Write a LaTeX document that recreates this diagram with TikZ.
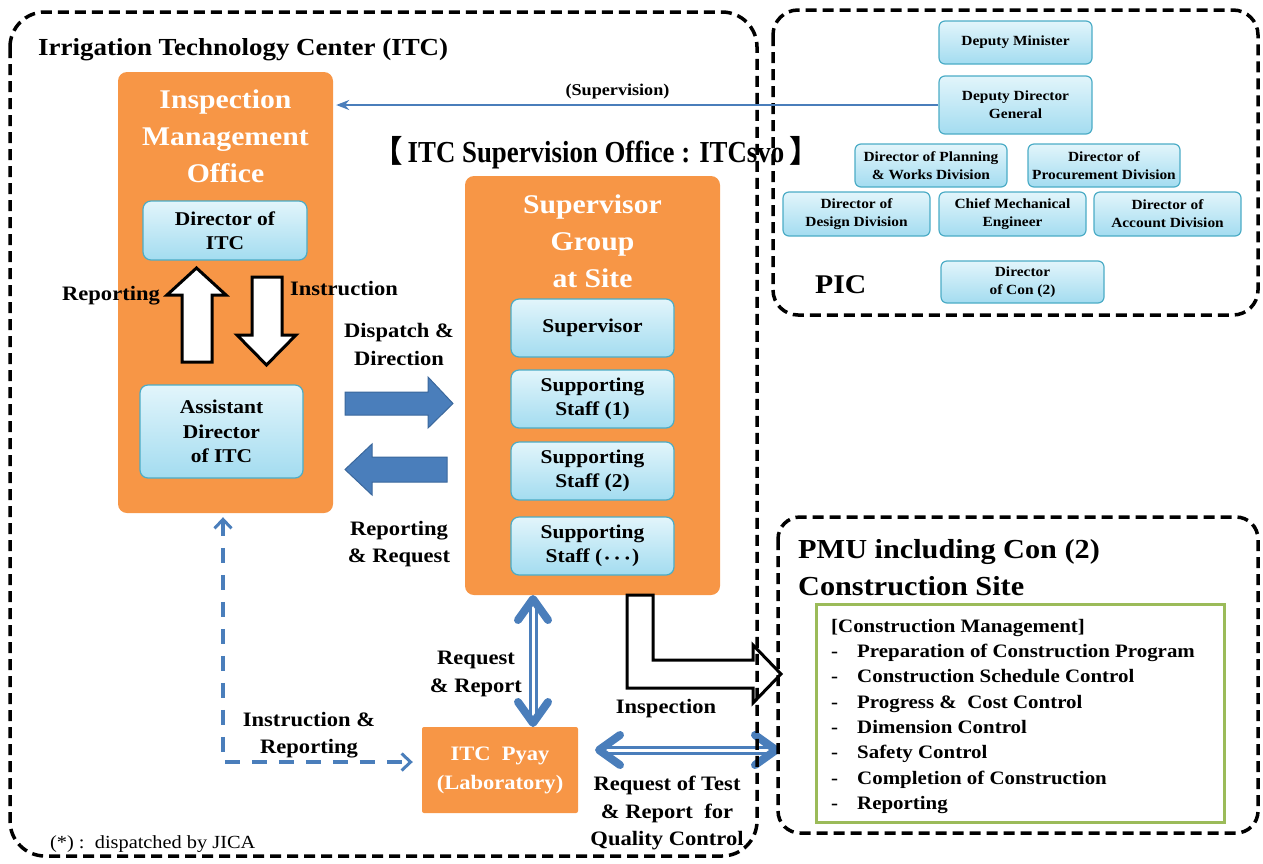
\documentclass[tikz,border=0pt]{standalone}
\usepackage{fontspec}
\setmainfont{Liberation Serif}[FakeStretch=1.1]
\newfontfamily\tallserif{Liberation Serif}[FakeStretch=0.88]
\newfontfamily\cjk{Noto Sans CJK SC}
\usetikzlibrary{arrows.meta,calc}
\newcommand\fsz[2]{\fontsize{#1}{#2}\selectfont}
\newcommand\midots{\kern2.5pt{\fsz{12}{12}•\kern5.5pt•\kern5.5pt•}\kern2.5pt}

\definecolor{orng}{HTML}{F79646}
\definecolor{lbtop}{HTML}{E2F5FB}
\definecolor{lbbot}{HTML}{A3DCF0}
\definecolor{lbborder}{HTML}{4BACC6}
\definecolor{blu}{HTML}{4A7EBB}
\definecolor{bludark}{HTML}{3A679C}
\definecolor{grn}{HTML}{9BBB59}

\begin{document}
\begin{tikzpicture}[x=1pt,y=-1pt,
  orangebox/.style={fill=orng, rounded corners=9pt, inner sep=0pt},
  lbox/.style={draw=lbborder, line width=1.2pt, rounded corners=8pt,
    top color=lbtop, bottom color=lbbot, align=center, inner sep=0pt,
    font=\bfseries\fsz{19.5}{24.5}},
  picbox/.style={lbox, rounded corners=6pt, font=\bfseries\fsz{14}{18}},
  boxtitle/.style={white, font=\bfseries\fsz{27}{37}, align=center, inner sep=0pt},
  lbl/.style={font=\bfseries\fsz{20.5}{27.5}, align=center, inner sep=0pt},
  hollow/.style={draw=black, line width=3pt, fill=white, line join=miter},
  blockarrow/.style={fill=blu, draw=bludark, line width=1pt},
  dashbox/.style={draw=black, line width=3.5pt, dash pattern=on 11pt off 6pt},
  dblshaft/.style={draw=blu, line width=3pt, double=white, double distance=3pt},
  dblhead/.style={draw=blu, line width=8pt, line cap=round, line join=round},
  dasharrow/.style={draw=blu, line width=3.5pt, dash pattern=on 15pt off 12pt,
    {Straight Barb[length=9pt,width=17pt,line width=3pt]}-{Straight Barb[length=9pt,width=17pt,line width=3pt]}},
  supline/.style={draw=blu, line width=2.5pt, -{Stealth[length=13pt,width=10pt]}}
]
\useasboundingbox (0,0) rectangle (1263,863);

% ---------- Inspection Management Office ----------
\node[orangebox, minimum width=215pt, minimum height=441pt] (office) at (225.5,292.5) {};
\node[boxtitle] (officeT) at (225.5,136.5) {Inspection\\Management\\Office};
\node[lbox, minimum width=164pt, minimum height=59pt] (dir) at (225,230.5) {Director of\\ITC};
\node[lbox, minimum width=163pt, minimum height=93pt] (asst) at (221.5,431.5) {Assistant\\Director\\of ITC};

% hollow arrows between director and assistant
\draw[hollow] (182,362) -- (182,295) -- (167,295) -- (196.5,268) -- (226,295)
  -- (212,295) -- (212,362) -- cycle;
\draw[hollow] (252,277) -- (282,277) -- (282,335) -- (296,335) -- (266.5,365)
  -- (237,335) -- (252,335) -- cycle;
\node[lbl, anchor=base] (repL) at (111,300) {Reporting};
\node[lbl, anchor=base] (insL) at (344,295) {Instruction};

% ---------- Supervisor Group at Site ----------
\node[orangebox, minimum width=255pt, minimum height=419pt] (sg) at (592.5,385.5) {};
\node[boxtitle] (sgT) at (592.5,241) {Supervisor\\Group\\at Site};
\node[lbox, minimum width=163pt, minimum height=58pt] (sup) at (592.5,328) {Supervisor};
\node[lbox, minimum width=163pt, minimum height=58pt] (st1) at (592.5,399) {Supporting\\Staff (1)};
\node[lbox, minimum width=163pt, minimum height=58pt] (st2) at (592.5,471) {Supporting\\Staff (2)};
\node[lbox, minimum width=163pt, minimum height=58pt] (st3) at (592.5,546) {Supporting\\Staff (\midots)};

\node[font=\bfseries\tallserif\fsz{30.5}{36}, anchor=base, inner sep=0pt] (svo) at (596,162)
  {{\cjk 【}\,ITC Supervision Office : ITCsvo\,{\cjk 】}};

% block arrows between the two offices
\draw[blockarrow] (345,392) -- (428,392) -- (428,377) -- (453,403.5) -- (428,428)
  -- (428,415) -- (345,415) -- cycle;
\draw[blockarrow] (447,457) -- (372,457) -- (372,444) -- (345,469.5) -- (372,495)
  -- (372,482) -- (447,482) -- cycle;
\node[lbl] (dispL) at (399,344.5) {Dispatch \&\\Direction};
\node[lbl] (rrqL) at (399,544) {Reporting\\\& Request};

% ---------- ITC Pyay ----------
\node[fill=orng, rounded corners=2pt, minimum width=156pt, minimum height=86pt,
  inner sep=0pt, text=white, align=center, font=\bfseries\fsz{20.5}{29}] (pyay) at (500,770)
  {ITC\ \ Pyay\\(Laboratory)};

% Request & Report double arrow
\coordinate (rrT) at (533,595);
\coordinate (rrB) at (533,727);
\draw[dblshaft] ($(rrT)+(0,5)$) -- ($(rrB)+(0,-5)$);
\draw[dblhead] ($(rrT)+(-15,25)$) -- ($(rrT)+(0,4)$) -- ($(rrT)+(15,25)$);
\draw[dblhead] ($(rrB)+(-15,-25)$) -- ($(rrB)+(0,-4)$) -- ($(rrB)+(15,-25)$);
\node[lbl] (rrL) at (476,674) {Request\\\& Report};

% Quality control double arrow
\coordinate (qcL) at (595,750);
\coordinate (qcR) at (780,750);
\draw[dblshaft] ($(qcL)+(5,0)$) -- ($(qcR)+(-5,0)$);
\draw[dblhead] ($(qcL)+(25,-15)$) -- ($(qcL)+(4,0)$) -- ($(qcL)+(25,15)$);
\draw[dblhead] ($(qcR)+(-25,-15)$) -- ($(qcR)+(-4,0)$) -- ($(qcR)+(-25,15)$);
\node[lbl] (qcT) at (667,813) {Request of Test\\\& Report\ \ for\\Quality Control};

% Instruction & Reporting dashed arrow
\coordinate (dX) at (223,0);
\draw[dasharrow, shorten <=4pt, shorten >=9pt] (dX |- office.south) |- ([yshift=8pt]pyay.west);
\node[lbl] (irL) at (309,735) {Instruction \&\\Reporting};

% Inspection elbow arrow
\draw[hollow] (627,595) -- (653,595) -- (653,660) -- (753,660) -- (753,645)
  -- (781,674) -- (753,703) -- (753,688) -- (627,688) -- cycle;
\node[lbl, anchor=base] (inspL) at (666,713) {Inspection};

% ---------- region frames ----------
\draw[dashbox, rounded corners=35pt] (10,12) rectangle (757,856);
\draw[dashbox, rounded corners=25pt] (773,10) rectangle (1258,315);
\draw[dashbox, rounded corners=22pt] (778,517) rectangle (1258,833);

\node[font=\bfseries\fsz{24.5}{30}, anchor=base west, inner sep=0pt] (itcT) at (38,55)
  {Irrigation Technology Center (ITC)};
\node[font=\fsz{18.5}{22}, anchor=base west, inner sep=0pt] (note) at (50,848)
  {(*) :\ \ dispatched by JICA};

% ---------- PIC ----------
\node[picbox, minimum width=153pt, minimum height=43pt] (dm) at (1015.5,42.5) {Deputy Minister};
\node[picbox, minimum width=153pt, minimum height=58pt] (ddg) at (1015.5,105) {Deputy Director\\General};
\node[picbox, minimum width=152pt, minimum height=43pt] (plan) at (931,165.5) {Director of Planning\\\& Works Division};
\node[picbox, minimum width=152pt, minimum height=43pt] (proc) at (1104,165.5) {Director of\\Procurement Division};
\node[picbox, minimum width=147pt, minimum height=44pt] (des) at (856.5,214) {Director of\\Design Division};
\node[picbox, minimum width=147pt, minimum height=44pt] (cme) at (1012.5,214) {Chief Mechanical\\Engineer};
\node[picbox, minimum width=147pt, minimum height=44pt] (acc) at (1167.5,214) {Director of\\Account Division};
\node[picbox, minimum width=163pt, minimum height=42pt] (con) at (1022.5,282) {Director\\of Con (2)};
\node[font=\bfseries\fsz{27}{32}, anchor=base west, inner sep=0pt] (picT) at (815,293) {PIC};

% supervision line
\draw[supline, shorten >=3pt] (ddg.west) -- (office.east |- ddg.west);
\node[font=\bfseries\fsz{16.5}{20}, anchor=base, inner sep=0pt] (supL) at (617.5,95) {(Supervision)};

% ---------- PMU / construction site ----------
\node[font=\bfseries\fsz{27.5}{37}, anchor=north west, align=left, inner sep=0pt] (pmuT) at (798,539.5)
  {PMU including Con (2)\\Construction Site};
\node[draw=grn, line width=3pt, minimum width=408pt, minimum height=218pt, inner sep=0pt] (cm) at (1020,713) {};
\node[font=\bfseries\fsz{19}{25.3}, anchor=north west, align=left, inner sep=0pt] (cmT) at (831,619)
  {[Construction Management]\\
   \makebox[26pt][l]{-}Preparation of Construction Program\\
   \makebox[26pt][l]{-}Construction Schedule Control\\
   \makebox[26pt][l]{-}Progress \&\ \ Cost Control\\
   \makebox[26pt][l]{-}Dimension Control\\
   \makebox[26pt][l]{-}Safety Control\\
   \makebox[26pt][l]{-}Completion of Construction\\
   \makebox[26pt][l]{-}Reporting};
\end{tikzpicture}
\end{document}
